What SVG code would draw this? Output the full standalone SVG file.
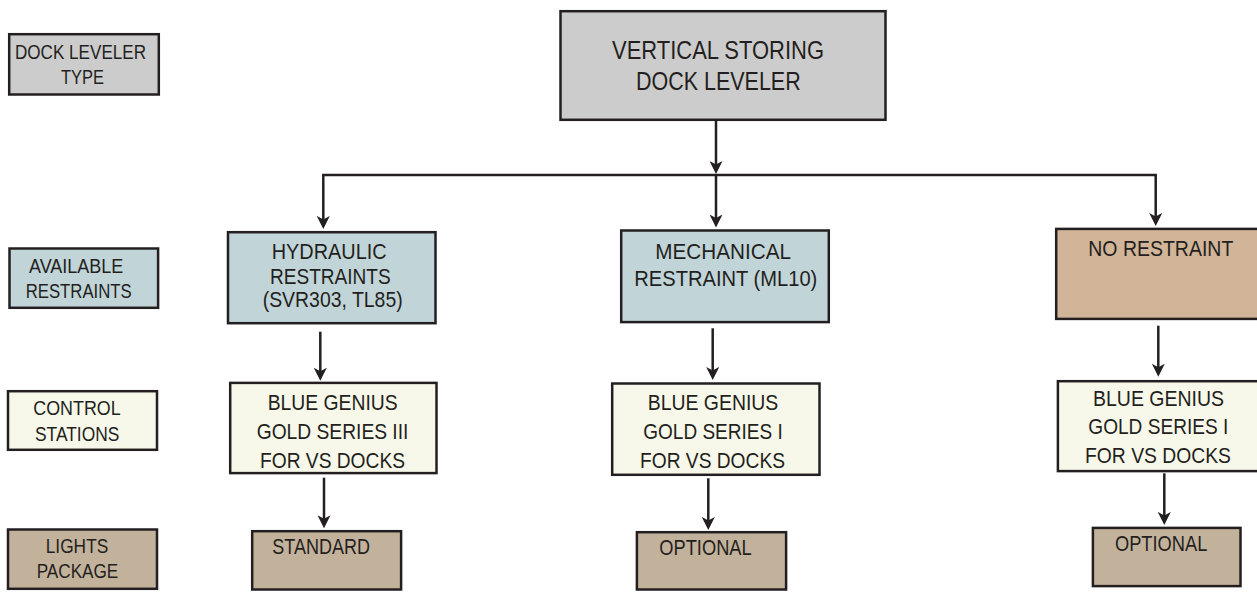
<svg xmlns="http://www.w3.org/2000/svg" width="1257" height="593" viewBox="0 0 1257 593">
  <style>
    .box { stroke: #231f20; stroke-width: 2.5; }
    .gray { fill: #cdcccc; }
    .blue { fill: #c1d4d8; }
    .cream { fill: #f7f8e9; }
    .tan { fill: #c3b29b; }
    .peach { fill: #d2b498; }
    text { font-family: "Liberation Sans", Arial, sans-serif; fill: #231f20; }
    .lg { font-size: 20px; }
    .nd { font-size: 22px; }
    .tp { font-size: 26px; }
    .conn { fill: none; stroke: #231f20; stroke-width: 2.5; }
  </style>
  <defs>
    <marker id="arrow" viewBox="0 0 13 13" refX="9" refY="6.5" markerWidth="13" markerHeight="13" markerUnits="userSpaceOnUse" orient="auto">
      <path d="M0,0 L13,6.5 L0,13 L3.5,6.5 Z" fill="#231f20"/>
    </marker>
  </defs>
  <rect width="1257" height="593" fill="#ffffff"/>

  <!-- Legend -->
  <g id="legend-type">
    <rect class="box gray" x="9.2" y="34.2" width="149.6" height="60.3"/>
    <text class="lg" x="15" y="59" textLength="131" lengthAdjust="spacingAndGlyphs">DOCK LEVELER</text>
    <text class="lg" x="61" y="84" textLength="43" lengthAdjust="spacingAndGlyphs">TYPE</text>
  </g>
  <g id="legend-restraints">
    <rect class="box blue" x="9.5" y="248.5" width="148.6" height="59.3"/>
    <text class="lg" x="29" y="272.7" textLength="94.3" lengthAdjust="spacingAndGlyphs">AVAILABLE</text>
    <text class="lg" x="25.7" y="298.3" textLength="106" lengthAdjust="spacingAndGlyphs">RESTRAINTS</text>
  </g>
  <g id="legend-control">
    <rect class="box cream" x="8" y="391.2" width="149" height="58.6"/>
    <text class="lg" x="33.3" y="415" textLength="87.4" lengthAdjust="spacingAndGlyphs">CONTROL</text>
    <text class="lg" x="35" y="440.7" textLength="84.3" lengthAdjust="spacingAndGlyphs">STATIONS</text>
  </g>
  <g id="legend-lights">
    <rect class="box tan" x="8" y="529.5" width="149" height="59.3"/>
    <text class="lg" x="45.7" y="553.3" textLength="62.6" lengthAdjust="spacingAndGlyphs">LIGHTS</text>
    <text class="lg" x="36.7" y="578.3" textLength="81.6" lengthAdjust="spacingAndGlyphs">PACKAGE</text>
  </g>

  <!-- Top node -->
  <g id="vertical-storing">
    <rect class="box gray" x="560.5" y="11.2" width="325" height="108.6"/>
    <text class="tp" x="612" y="59.3" textLength="212" lengthAdjust="spacingAndGlyphs">VERTICAL STORING</text>
    <text class="tp" x="636" y="90" textLength="164.7" lengthAdjust="spacingAndGlyphs">DOCK LEVELER</text>
  </g>

  <!-- Restraints -->
  <g id="hydraulic">
    <rect class="box blue" x="228" y="232.2" width="207.5" height="91"/>
    <text class="nd" x="271.7" y="259.3" textLength="115" lengthAdjust="spacingAndGlyphs">HYDRAULIC</text>
    <text class="nd" x="270" y="284" textLength="120.7" lengthAdjust="spacingAndGlyphs">RESTRAINTS</text>
    <text class="nd" x="262.7" y="307" textLength="140" lengthAdjust="spacingAndGlyphs">(SVR303, TL85)</text>
  </g>
  <g id="mechanical">
    <rect class="box blue" x="621.2" y="230.5" width="207.6" height="91.6"/>
    <text class="nd" x="655.3" y="259" textLength="135.7" lengthAdjust="spacingAndGlyphs">MECHANICAL</text>
    <text class="nd" x="634.3" y="286" textLength="183" lengthAdjust="spacingAndGlyphs">RESTRAINT (ML10)</text>
  </g>
  <g id="no-restraint">
    <rect class="box peach" x="1056.2" y="228.9" width="210" height="90"/>
    <text class="nd" x="1088.3" y="255.7" textLength="145" lengthAdjust="spacingAndGlyphs">NO RESTRAINT</text>
  </g>

  <!-- Control stations -->
  <g id="control-1">
    <rect class="box cream" x="230.2" y="382.9" width="206.3" height="90.2"/>
    <text class="nd" x="267.7" y="410" textLength="130" lengthAdjust="spacingAndGlyphs">BLUE GENIUS</text>
    <text class="nd" x="256.7" y="439" textLength="151.7" lengthAdjust="spacingAndGlyphs">GOLD SERIES III</text>
    <text class="nd" x="260" y="467.7" textLength="145" lengthAdjust="spacingAndGlyphs">FOR VS DOCKS</text>
  </g>
  <g id="control-2">
    <rect class="box cream" x="612.2" y="383.5" width="207.3" height="91.3"/>
    <text class="nd" x="647.7" y="410" textLength="130.6" lengthAdjust="spacingAndGlyphs">BLUE GENIUS</text>
    <text class="nd" x="643.3" y="439" textLength="139.4" lengthAdjust="spacingAndGlyphs">GOLD SERIES I</text>
    <text class="nd" x="640" y="467.7" textLength="145" lengthAdjust="spacingAndGlyphs">FOR VS DOCKS</text>
  </g>
  <g id="control-3">
    <rect class="box cream" x="1057.9" y="381.2" width="210" height="89.9"/>
    <text class="nd" x="1093" y="406" textLength="131" lengthAdjust="spacingAndGlyphs">BLUE GENIUS</text>
    <text class="nd" x="1088.3" y="434.3" textLength="140" lengthAdjust="spacingAndGlyphs">GOLD SERIES I</text>
    <text class="nd" x="1085" y="463.3" textLength="146" lengthAdjust="spacingAndGlyphs">FOR VS DOCKS</text>
  </g>

  <!-- Lights -->
  <g id="lights-1">
    <rect class="box tan" x="252.2" y="531.2" width="148.9" height="58.3"/>
    <text class="nd" x="272.3" y="554.3" textLength="97.7" lengthAdjust="spacingAndGlyphs">STANDARD</text>
  </g>
  <g id="lights-2">
    <rect class="box tan" x="636.9" y="532.2" width="149.2" height="57.3"/>
    <text class="nd" x="659.3" y="555" textLength="92.4" lengthAdjust="spacingAndGlyphs">OPTIONAL</text>
  </g>
  <g id="lights-3">
    <rect class="box tan" x="1092.9" y="527.9" width="147.6" height="58.2"/>
    <text class="nd" x="1115" y="550.7" textLength="92.3" lengthAdjust="spacingAndGlyphs">OPTIONAL</text>
  </g>

  <!-- Connectors -->
  <g id="connectors">
    <path class="conn" d="M716,121 L716,170" marker-end="url(#arrow)"/>
    <path class="conn" d="M322.05,175 L1156.95,175"/>
    <path class="conn" d="M323.3,175 L323.3,225" marker-end="url(#arrow)"/>
    <path class="conn" d="M716,175 L716,223.5" marker-end="url(#arrow)"/>
    <path class="conn" d="M1155.7,175 L1155.7,222" marker-end="url(#arrow)"/>
    <path class="conn" d="M320.3,331.7 L320.3,376.8" marker-end="url(#arrow)"/>
    <path class="conn" d="M712.7,328.3 L712.7,376" marker-end="url(#arrow)"/>
    <path class="conn" d="M1158.3,325.7 L1158.3,372.7" marker-end="url(#arrow)"/>
    <path class="conn" d="M324,477.7 L324,524.3" marker-end="url(#arrow)"/>
    <path class="conn" d="M708.3,478.3 L708.3,526" marker-end="url(#arrow)"/>
    <path class="conn" d="M1164.3,473.3 L1164.3,521" marker-end="url(#arrow)"/>
  </g>
</svg>
